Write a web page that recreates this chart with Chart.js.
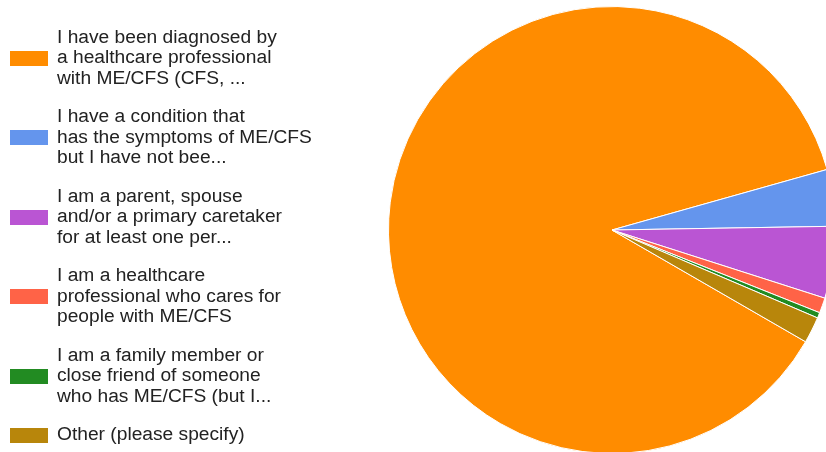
<!DOCTYPE html>
<html>
<head>
<meta charset="utf-8">
<script src="https://cdn.jsdelivr.net/npm/chart.js@4/dist/chart.umd.min.js"></script>
<style>
  html, body { margin: 0; padding: 0; background: #fff; overflow: hidden; width: 826px; height: 452px; }
  #wrap { position: relative; width: 826px; height: 452px; overflow: hidden; }
  #pie-chart { position: absolute; left: 0; top: 0; }
  #legend {
    position: absolute; left: 10px; top: 26.5px;
    display: flex; flex-direction: column; gap: 18px;
    font-family: 'Liberation Sans', Arial, sans-serif; font-size: 19.2px; line-height: 20.5px; color: #222;
  }
  .item { display: flex; align-items: center; }
  .box { width: 38px; height: 15px; margin-right: 9px; flex: none; position: relative; top: 1px; }
  .text { white-space: nowrap; }
</style>
</head>
<body>
<div id="wrap">
  <canvas id="pie-chart"></canvas>
  <div id="legend"></div>
</div>
<script>
// categories, as the legend shows them (already cut off in the original)
const labelLines = [
  ['I have been diagnosed by', 'a healthcare professional', 'with ME/CFS (CFS, ...'],
  ['I have a condition that', 'has the symptoms of ME/CFS', 'but I have not bee...'],
  ['I am a parent, spouse', 'and/or a primary caretaker', 'for at least one per...'],
  ['I am a healthcare', 'professional who cares for', 'people with ME/CFS'],
  ['I am a family member or', 'close friend of someone', 'who has ME/CFS (but I...'],
  ['Other (please specify)']
];
// share of responses, in percent
const values = [87.3, 4.1, 5.2, 1.1, 0.4, 1.9];
const colors = ['#ff8c00', '#6495ed', '#ba55d3', '#ff6347', '#228b22', '#b8860b'];

const labels = labelLines.map(l => l.join(' '));

// legend on the left, built from the same arrays
const legend = document.getElementById('legend');
labelLines.forEach((lines, i) => {
  const item = document.createElement('div');
  item.className = 'item';
  const box = document.createElement('span');
  box.className = 'box';
  box.style.background = colors[i];
  const text = document.createElement('span');
  text.className = 'text';
  text.innerHTML = lines.join('<br>');
  item.appendChild(box);
  item.appendChild(text);
  legend.appendChild(item);
});

// canvas is wider than the window so the pie gets cut on the right
const canvas = document.getElementById('pie-chart');
canvas.width = 900;
canvas.height = 460;
canvas.style.width = '900px';
canvas.style.height = '460px';

new Chart(canvas, {
  type: 'pie',
  data: {
    labels: labels,
    datasets: [{
      data: values,
      backgroundColor: colors,
      borderColor: '#ffffff',
      borderWidth: 1
    }]
  },
  options: {
    responsive: false,
    animation: false,
    rotation: 120,
    layout: {
      padding: { left: 388, right: 64, top: 6, bottom: 6 }
    },
    plugins: {
      legend: { display: false },
      tooltip: { enabled: false }
    }
  }
});
</script>
</body>
</html>
